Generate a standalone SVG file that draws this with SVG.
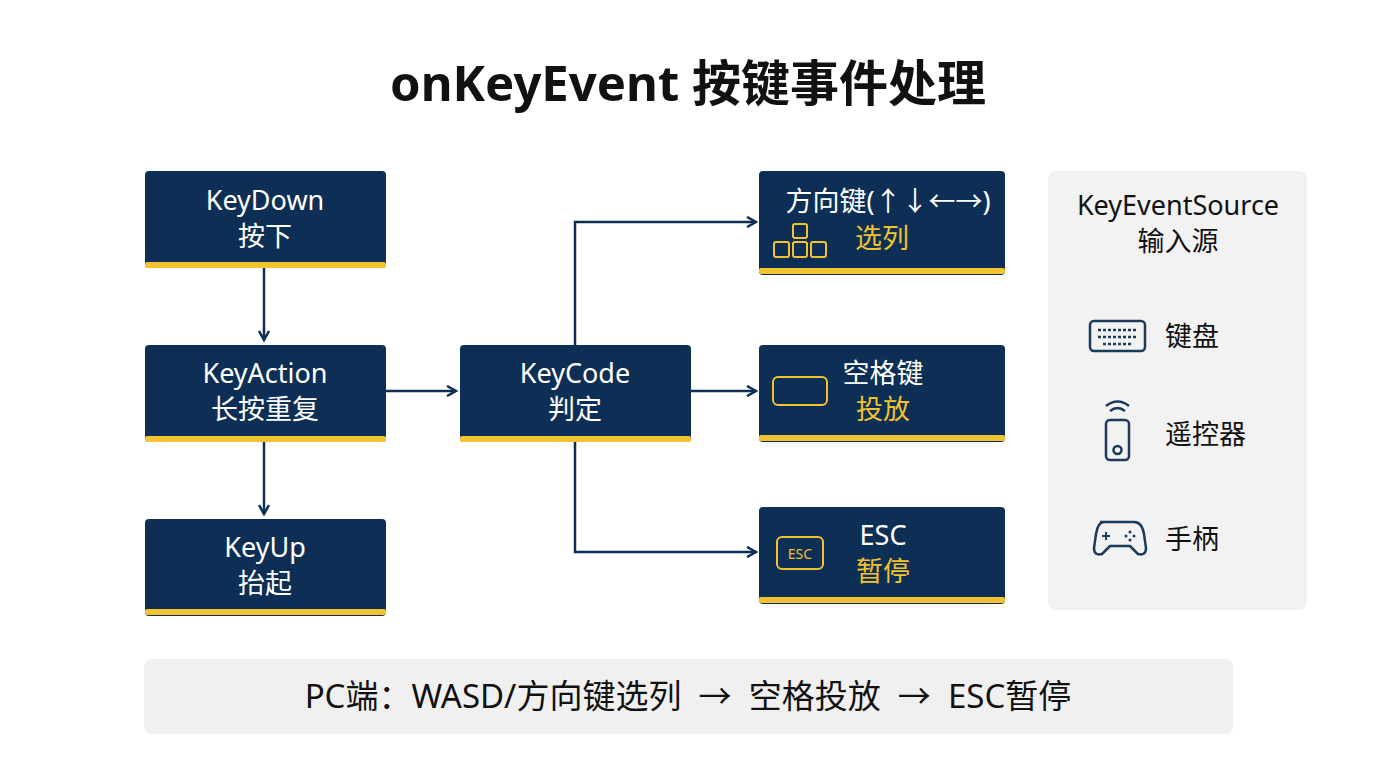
<svg xmlns="http://www.w3.org/2000/svg" width="1376" height="768" viewBox="0 0 1376 768">
<defs>
<style>
.t{font-family:"Noto Sans","Noto Sans CJK SC",sans-serif;font-size:27px;fill:#fff;text-anchor:middle}
.y{fill:#f2c230}
.box{fill:#0e2f55}
.bar{fill:#f2c230}
.c{fill:none;stroke:#0e2f55;stroke-width:2.5}
.ic{fill:none;stroke:#f2c230;stroke-width:2}
.dk{fill:none;stroke:#1c3a5c;stroke-width:2.5}
.k{font-family:"Noto Sans","Noto Sans CJK SC",sans-serif;font-size:27px;fill:#111;text-anchor:start}
</style>
<marker id="a" markerWidth="12" markerHeight="12" refX="10" refY="6" orient="auto" markerUnits="userSpaceOnUse"><path d="M1,1 L10,6 L1,11" fill="none" stroke="#0e2f55" stroke-width="2.5"/></marker>
</defs>
<rect width="1376" height="768" fill="#fff"/>
<text x="688" y="101" style="font-family:'Noto Sans','Noto Sans CJK SC',sans-serif;font-size:49px;font-weight:bold;fill:#111;text-anchor:middle">onKeyEvent 按键事件处理</text>
<g id="connectors">
<path class="c" d="M264,268 V340" marker-end="url(#a)"/>
<path class="c" d="M264,440 V514" marker-end="url(#a)"/>
<path class="c" d="M386,391 H456" marker-end="url(#a)"/>
<path class="c" d="M690,391 H756" marker-end="url(#a)"/>
<path class="c" d="M575,345 V222 H756" marker-end="url(#a)"/>
<path class="c" d="M575,440 V552 H756" marker-end="url(#a)"/>
</g>
<g id="keydown"><rect class="box" x="145" y="171" width="241" height="97" rx="4"/><rect class="bar" x="145" y="262" width="241" height="6" rx="2"/><text class="t" x="265" y="210">KeyDown</text><text class="t" x="265" y="246">按下</text></g>
<g id="keyaction"><rect class="box" x="145" y="345" width="241" height="97" rx="4"/><rect class="bar" x="145" y="436" width="241" height="6" rx="2"/><text class="t" x="265" y="383">KeyAction</text><text class="t" x="265" y="419">长按重复</text></g>
<g id="keyup"><rect class="box" x="145" y="519" width="241" height="97" rx="4"/><rect class="bar" x="145" y="609" width="241" height="6" rx="2"/><text class="t" x="265" y="557">KeyUp</text><text class="t" x="265" y="593">抬起</text></g>
<g id="keycode"><rect class="box" x="460" y="345" width="231" height="97" rx="4"/><rect class="bar" x="460" y="436" width="231" height="6" rx="2"/><text class="t" x="575" y="383">KeyCode</text><text class="t" x="575" y="419">判定</text></g>
<g id="arrows"><rect class="box" x="759" y="171" width="246" height="104" rx="4"/><rect class="bar" x="759" y="268" width="246" height="6" rx="2"/><text class="t" x="888" y="211">方向键(↑↓←→)</text><text class="t y" x="882" y="248">选列</text>
<rect class="ic" x="793" y="224" width="14" height="14" rx="2"/><rect class="ic" x="774" y="242" width="15" height="15" rx="2"/><rect class="ic" x="793" y="242" width="14" height="15" rx="2"/><rect class="ic" x="811" y="242" width="15" height="15" rx="2"/></g>
<g id="space"><rect class="box" x="759" y="345" width="246" height="97" rx="4"/><rect class="bar" x="759" y="435" width="246" height="6" rx="2"/><text class="t" x="883" y="383">空格键</text><text class="t y" x="883" y="419">投放</text><rect class="ic" x="773" y="377" width="54" height="28" rx="5"/></g>
<g id="esc"><rect class="box" x="759" y="507" width="246" height="97" rx="4"/><rect class="bar" x="759" y="597" width="246" height="6" rx="2"/><text class="t" x="883" y="545">ESC</text><text class="t y" x="883" y="581">暂停</text><rect class="ic" x="777" y="537" width="46" height="32" rx="5"/><text x="800" y="559" style="font-family:'Noto Sans',sans-serif;font-size:14px;fill:#f2c230;text-anchor:middle">ESC</text></g>
<g id="source"><rect x="1048" y="171" width="259" height="439" rx="8" fill="#f2f2f2"/>
<text class="k" x="1178" y="215" style="text-anchor:middle">KeyEventSource</text><text class="k" x="1178" y="251" style="text-anchor:middle">输入源</text>
<rect class="dk" x="1090" y="321" width="55" height="30" rx="4"/><path class="dk" d="M1098,330 h38 M1098,337 h38 M1103,344 h28" stroke-dasharray="3 2" style="stroke-width:2.5"/>
<text class="k" x="1165" y="346">键盘</text>
<rect class="dk" x="1106" y="420" width="23" height="40" rx="4"/><circle class="dk" cx="1117.5" cy="450" r="4"/><path class="dk" d="M1110,411 q7.5,-6 15,0 M1106,406 q11.5,-9 23,0"/>
<text class="k" x="1165" y="444">遥控器</text>
<path class="dk" d="M1100,522 h34 q8,0 10,12 l2,14 q0,8 -8,6 l-8,-8 h-20 l-8,8 q-8,2 -8,-6 l2,-14 q2,-12 8,-12 z"/>
<path class="dk" d="M1102,536 h8 M1106,532 v8" style="stroke-width:2"/><circle cx="1130" cy="532" r="1.5" fill="#1c3a5c"/><circle cx="1134" cy="536" r="1.5" fill="#1c3a5c"/><circle cx="1126" cy="536" r="1.5" fill="#1c3a5c"/><circle cx="1130" cy="540" r="1.5" fill="#1c3a5c"/>
<text class="k" x="1165" y="549">手柄</text></g>
<g id="footer"><rect x="144" y="659" width="1089" height="75" rx="8" fill="#f0f0f0"/><text class="k" x="688" y="708" xml:space="preserve" style="text-anchor:middle;font-size:33px">PC端：WASD/方向键选列  →  空格投放  →  ESC暂停</text></g>
</svg>
